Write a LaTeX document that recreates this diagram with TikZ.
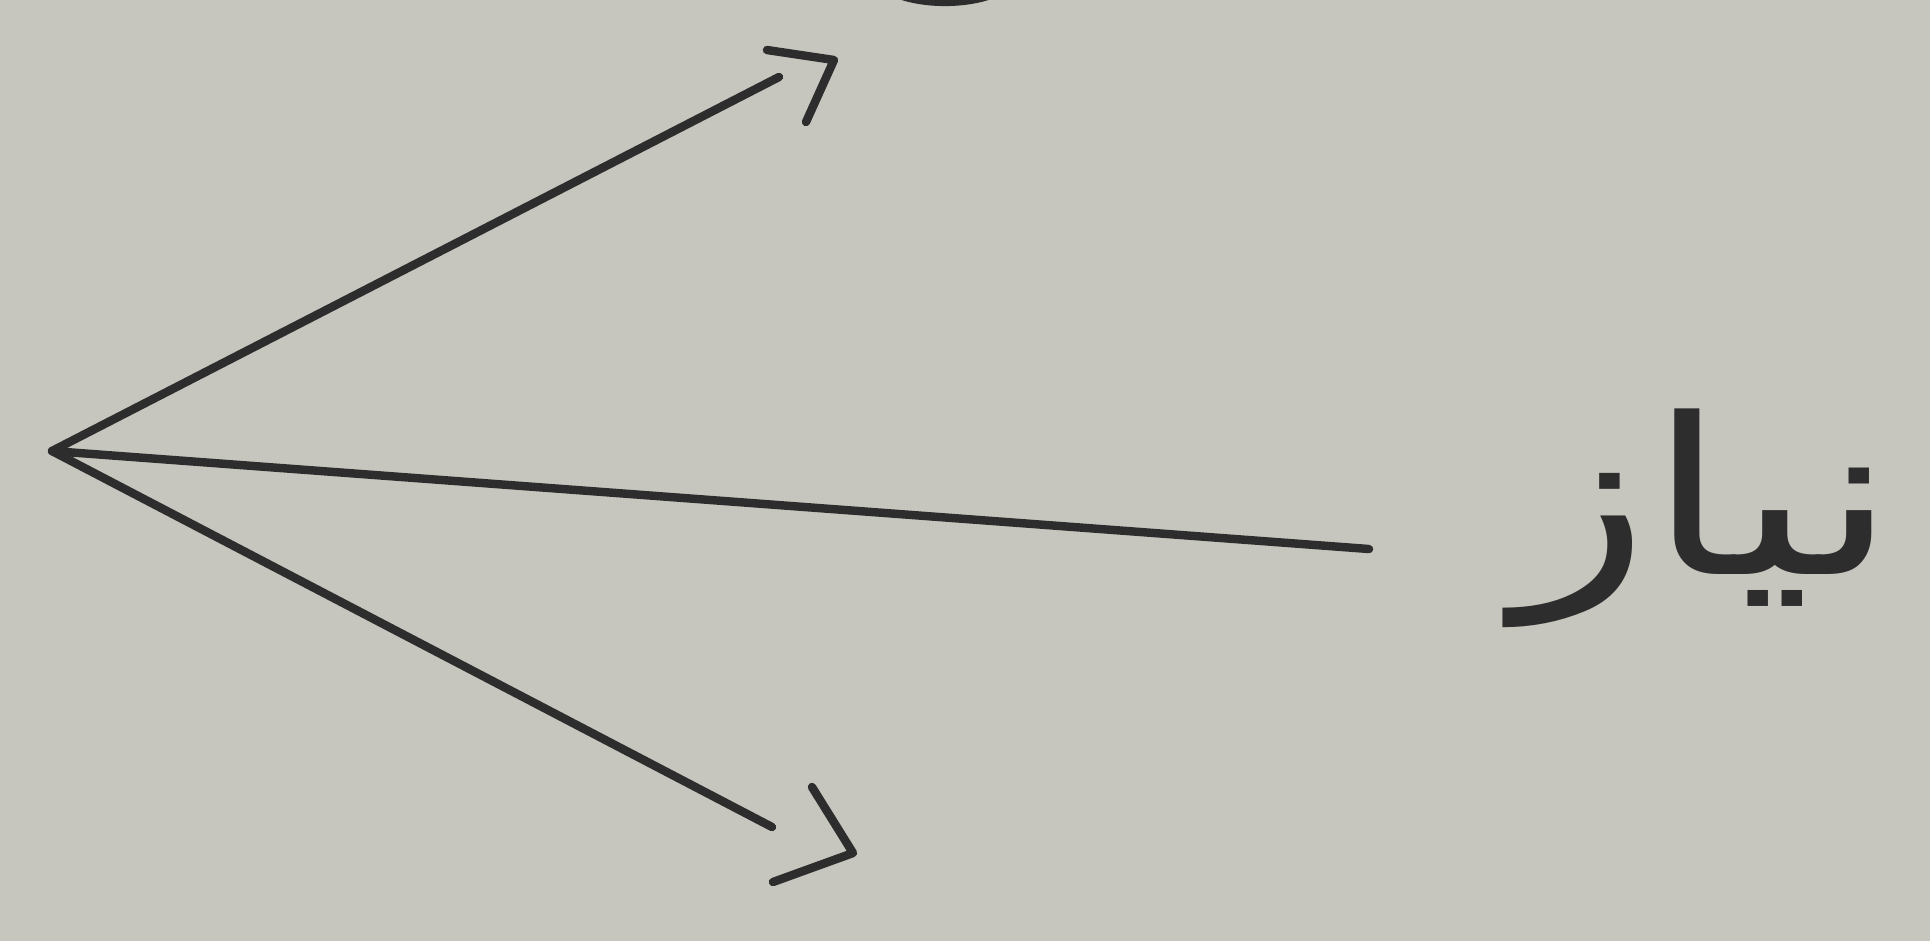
\documentclass[tikz,border=0pt]{standalone}
\usepackage{fontspec}
\newfontfamily\arabicfont[Script=Arabic]{DejaVu Sans}
\TeXXeTstate=1
\definecolor{paper}{RGB}{199,198,190}
\definecolor{ink}{RGB}{45,45,45}
\begin{document}
\begin{tikzpicture}[x=0.01cm,y=-0.01cm,
  pen/.style={draw=ink,line width=2.4pt,line cap=round,line join=round},
  label/.style={text=ink,font=\arabicfont\fontsize{62}{70}\selectfont,inner sep=0pt}]
\fill[paper] (0,0) rectangle (1930,941);
\useasboundingbox (0,0) rectangle (1930,941);
\coordinate (v) at (52,451);
\coordinate (a) at (779,77);
\coordinate (b) at (1369,549);
\coordinate (c) at (772,827);
\draw[pen] (v) -- (a);
\draw[pen] (v) -- (b);
\draw[pen] (v) -- (c);
% hand-drawn arrowheads
\coordinate (ah1) at (767,50);
\coordinate (ah2) at (834,60);
\coordinate (ah3) at (806,122);
\draw[pen] (ah1) -- (ah2) -- (ah3);
\coordinate (bh1) at (812,787);
\coordinate (bh2) at (853,853);
\coordinate (bh3) at (773,882);
\draw[pen] (bh1) -- (bh2) -- (bh3);
% cut-off mark at the top edge
\coordinate (m1) at (898,-6);
\coordinate (m2) at (992,-6);
\draw[pen,line width=2.6pt] (m1) .. controls (925,4) and (965,4) .. (m2);
\node[label,anchor=base] (t) at (1705,574) {\scalebox{1.28}[1.0]{\beginR نیاز\endR}};
\end{tikzpicture}
\end{document}
